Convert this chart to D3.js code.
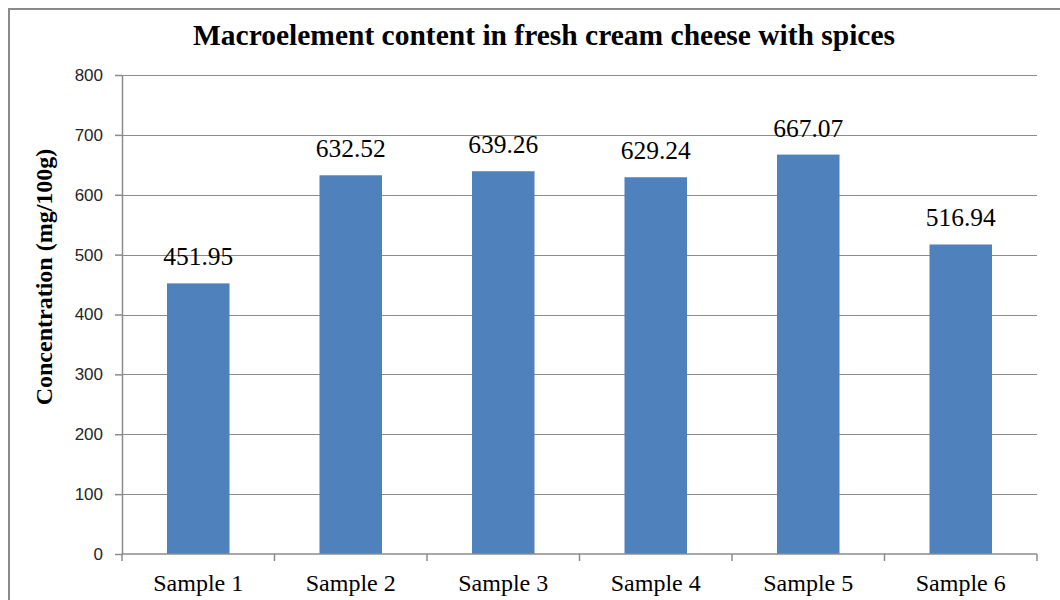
<!DOCTYPE html>
<meta charset="utf-8">
<style>
body { margin: 0; background: #fff; }
</style>
<svg width="1060" height="600"></svg>
<script src="https://d3js.org/d3.v7.min.js"></script>
<script>

var samples = ["Sample 1", "Sample 2", "Sample 3", "Sample 4", "Sample 5", "Sample 6"];
var values = [451.95, 632.52, 639.26, 629.24, 667.07, 516.94];
var yTicks = [0, 100, 200, 300, 400, 500, 600, 700, 800];

var serif = "'Liberation Serif', 'Times New Roman', serif";
var sans = "'Liberation Sans', Arial, sans-serif";
var lineColor = "#8c8c8c";

var svg = d3.select("svg");

// chart frame
svg.append("rect")
    .attr("x", 9).attr("y", 9)
    .attr("width", 1100).attr("height", 700)
    .attr("fill", "none")
    .attr("stroke", "#8a8a8a")
    .attr("stroke-width", 2);

var margin = {left: 122, right: 1037, top: 75, bottom: 554};

var x = d3.scaleBand()
    .domain(samples)
    .range([margin.left, margin.right])
    .paddingInner(0.59)
    .paddingOuter(0.295);

var x0 = d3.scaleBand()
    .domain(samples)
    .range([margin.left, margin.right]);

var y = d3.scaleLinear()
    .domain([0, 800])
    .range([margin.bottom, margin.top]);

// gridlines
svg.append("g")
  .selectAll("line")
  .data(yTicks.filter(function(d) { return d > 0; }))
  .enter().append("line")
    .attr("x1", margin.left).attr("x2", margin.right)
    .attr("y1", function(d) { return Math.round(y(d)) + 0.5; })
    .attr("y2", function(d) { return Math.round(y(d)) + 0.5; })
    .attr("stroke", lineColor);

// bars
svg.append("g")
  .selectAll("rect")
  .data(values)
  .enter().append("rect")
    .attr("x", function(d, i) { return x(samples[i]); })
    .attr("width", x.bandwidth())
    .attr("y", function(d) { return y(d); })
    .attr("height", function(d) { return y(0) - y(d); })
    .attr("fill", "#4f81bd");

// data labels
svg.append("g")
  .selectAll("text")
  .data(values)
  .enter().append("text")
    .attr("x", function(d, i) { return x(samples[i]) + x.bandwidth() / 2; })
    .attr("y", function(d) { return y(d) - 18; })
    .attr("text-anchor", "middle")
    .style("font-family", serif)
    .style("font-size", "25.5px")
    .style("fill", "#000")
    .text(function(d) { return d.toFixed(2); });

// y axis
var yg = svg.append("g")
    .attr("transform", "translate(" + margin.left + ",0)")
    .call(d3.axisLeft(y).tickValues(yTicks).tickSize(7).tickSizeOuter(0).tickPadding(12));

yg.selectAll("path, line").attr("stroke", lineColor).attr("stroke-width", 1.5);
yg.selectAll("text")
    .style("font-family", sans)
    .style("font-size", "17px")
    .style("fill", "#262626");

// x axis with ticks between categories
var xg = svg.append("g")
    .attr("transform", "translate(0," + margin.bottom + ")");

xg.append("line")
    .attr("x1", margin.left).attr("x2", margin.right)
    .attr("y1", 0).attr("y2", 0)
    .attr("stroke", lineColor).attr("stroke-width", 1.5);

xg.selectAll(".sep")
  .data(samples.concat(["end"]))
  .enter().append("line")
    .attr("class", "sep")
    .attr("x1", function(d, i) { return i < samples.length ? x0(d) : margin.right; })
    .attr("x2", function(d, i) { return i < samples.length ? x0(d) : margin.right; })
    .attr("y1", 0).attr("y2", 7)
    .attr("stroke", lineColor).attr("stroke-width", 1.5);

xg.selectAll("text")
  .data(samples)
  .enter().append("text")
    .attr("x", function(d) { return x0(d) + x0.bandwidth() / 2; })
    .attr("y", 37)
    .attr("text-anchor", "middle")
    .style("font-family", serif)
    .style("font-size", "24px")
    .style("fill", "#000")
    .text(function(d) { return d; });

// axis title
svg.append("text")
    .attr("transform", "translate(52,277) rotate(-90)")
    .attr("text-anchor", "middle")
    .style("font-family", serif)
    .style("font-weight", "bold")
    .style("font-size", "24px")
    .text("Concentration (mg/100g)");

// chart title
svg.append("text")
    .attr("x", 544)
    .attr("y", 45)
    .attr("text-anchor", "middle")
    .style("font-family", serif)
    .style("font-weight", "bold")
    .style("font-size", "29.5px")
    .text("Macroelement content in fresh cream cheese with spices");

</script>
